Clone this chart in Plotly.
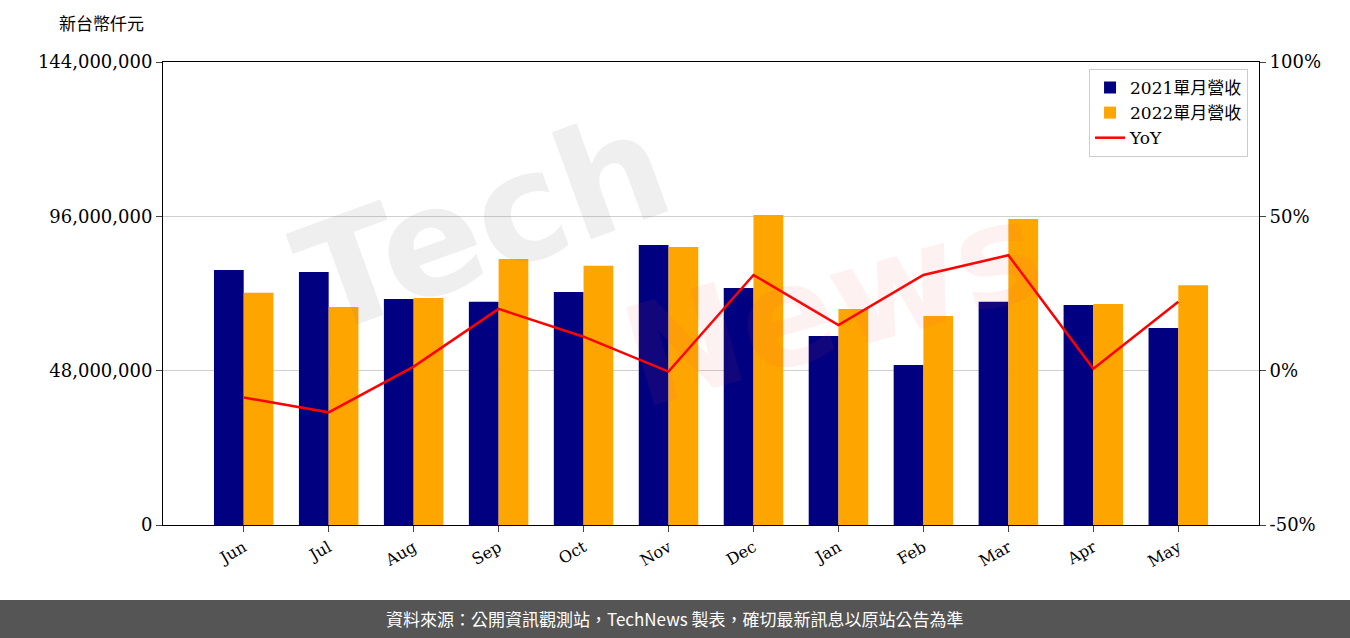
import plotly.graph_objects as go

months = ["Jun", "Jul", "Aug", "Sep", "Oct", "Nov", "Dec", "Jan", "Feb", "Mar", "Apr", "May"]
rev_2021 = [79300000, 78700000, 70300000, 69400000, 72500000, 87100000,
            73700000, 58800000, 49800000, 69400000, 68400000, 61300000]
rev_2022 = [72200000, 67800000, 70600000, 82700000, 80600000, 86500000,
            96400000, 67200000, 65000000, 95200000, 68700000, 74600000]
yoy = [-8.7, -13.5, 1.3, 20.0, 11.0, -0.3, 31.0, 14.8, 31.0, 37.4, 0.6, 22.3]

left_ticks = [0, 48000000, 96000000, 144000000]
right_ticks = [-50, 0, 50, 100]
right_labels = ["-50%", "0%", "50%", "100%"]

serif = "DejaVu Serif"
cjk = "Noto Sans CJK TC"
x = list(range(len(months)))

fig = go.Figure()
fig.add_trace(go.Bar(x=x, y=rev_2021, name="2021單月營收", marker_color="#000080",
                     marker_line_width=0, offset=-0.35, width=0.35))
fig.add_trace(go.Bar(x=x, y=rev_2022, name="2022單月營收", marker_color="#FFA500",
                     marker_line_width=0, offset=0, width=0.35))
fig.add_trace(go.Scatter(x=x, y=yoy, name="YoY", mode="lines", yaxis="y2",
                         line=dict(color="red", width=2.5)))

# 浮水印
fig.add_annotation(text="<b>Tech</b>", x=0.1, y=0.33, xref="paper", yref="paper", showarrow=False,
                   textangle=-20, font=dict(size=150, family="DejaVu Sans", color="rgba(120,120,120,0.12)"))
fig.add_annotation(text="<b>News</b>", x=0.82, y=0.78, xref="paper", yref="paper", showarrow=False,
                   textangle=-16, font=dict(size=140, family="DejaVu Sans", color="rgba(230,80,80,0.08)"))

# 頁尾
fig.add_shape(type="rect", xref="paper", yref="paper", x0=-0.2, x1=1.2,
              y0=-0.26, y1=-0.162, fillcolor="#555555", line_width=0, layer="below")
fig.add_annotation(text="資料來源：公開資訊觀測站，TechNews 製表，確切最新訊息以原站公告為準",
                   x=(675 - 163) / 1096, y=-0.203, xref="paper", yref="paper", showarrow=False,
                   yanchor="middle", font=dict(size=17, family=cjk, color="white"))
fig.add_annotation(text="新台幣仟元", x=-0.097, y=1.055, xref="paper", yref="paper", showarrow=False,
                   xanchor="left", yanchor="bottom", font=dict(size=17, family=cjk, color="black"))

fig.update_layout(
    width=1350, height=638,
    margin=dict(l=163, r=91, t=62, b=113, autoexpand=False),
    plot_bgcolor="white", paper_bgcolor="white",
    barmode="overlay",
    xaxis=dict(range=[-0.95, 11.95], tickvals=x, ticktext=months, tickangle=-30,
               ticks="outside", ticklen=6, showline=True, linecolor="black", mirror=True,
               tickfont=dict(family=serif, size=16, color="black")),
    yaxis=dict(range=[0, 144000000], tickvals=left_ticks, tickformat=",d",
               ticks="outside", ticklen=6, showline=True, linecolor="black",
               showgrid=True, gridcolor="#d0d0d0", zeroline=False,
               tickfont=dict(family=serif, size=18, color="black")),
    yaxis2=dict(range=[-50, 100], tickvals=right_ticks, ticktext=right_labels, overlaying="y",
                side="right", ticks="outside", ticklen=6, showline=True, linecolor="black",
                showgrid=False, zeroline=False,
                tickfont=dict(family=serif, size=18, color="black")),
    legend=dict(x=0.99, y=0.985, xanchor="right", yanchor="top", bgcolor="white",
                bordercolor="#cccccc", borderwidth=1,
                font=dict(family="DejaVu Serif, Noto Sans CJK TC", size=17, color="black")),
)

fig.write_html("out.html", config={"displayModeBar": False},
               post_script="document.body.style.margin='0';")
